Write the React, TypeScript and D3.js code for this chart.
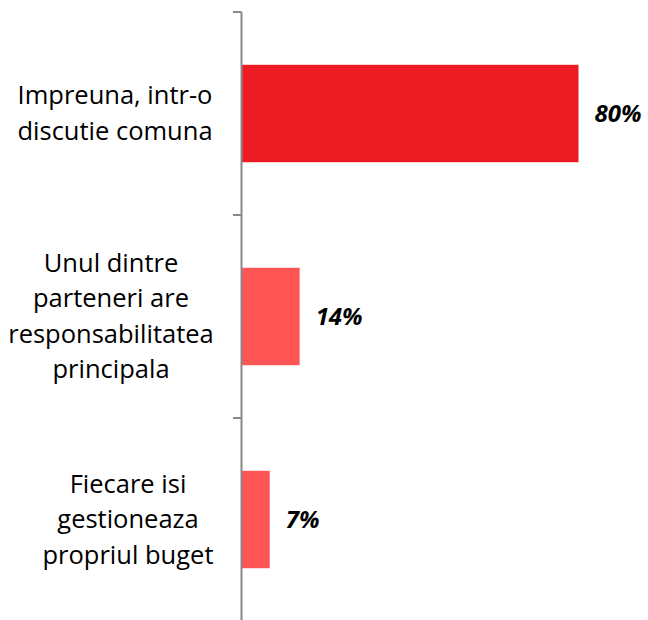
import React from "react";
import * as d3 from "d3";

const categories: string[][] = [
  ["Impreuna, intr-o", "discutie comuna"],
  ["Unul dintre", "parteneri are", "responsabilitatea", "principala"],
  ["Fiecare isi", "gestioneaza", "propriul buget"],
];
const values: number[] = [80, 13.8, 6.7];
const valueLabels: string[] = ["80%", "14%", "7%"];
const barColors: string[] = ["#ED1C24", "#FF5555", "#FF5555"];
const labelCenters: number[] = [115, 111, 128];

export default function App() {
  const W = 648;
  const H = 620;
  const axisX = 241.5;
  const y = d3
    .scaleBand<number>()
    .domain(d3.range(categories.length))
    .range([12, 621])
    .paddingInner(0.52)
    .paddingOuter(0.26);
  const x = d3.scaleLinear().domain([0, 80]).range([axisX, 578.5]);
  const ticks = d3.range(categories.length + 1).map((i) => 12 + i * ((621 - 12) / categories.length));
  const font = "'Open Sans', sans-serif";
  const lineH = 35.5;

  return (
    <svg
      width={W}
      height={H}
      style={{ position: "absolute", left: 0, top: 0, background: "#fff" }}
    >
      {values.map((v, i) => (
        <rect
          key={i}
          x={axisX}
          y={y(i)!}
          width={x(v) - axisX}
          height={y.bandwidth()}
          fill={barColors[i]}
        />
      ))}
      <line x1={axisX} x2={axisX} y1={12} y2={H} stroke="#888" strokeWidth={2} />
      {ticks.map((t, i) => (
        <line key={i} x1={233} x2={axisX} y1={t} y2={t} stroke="#888" strokeWidth={2} />
      ))}
      {values.map((v, i) => (
        <text
          key={i}
          x={x(v) + 16}
          y={y(i)! + y.bandwidth() / 2}
          dy="0.36em"
          fontFamily={font}
          fontWeight="bold"
          fontStyle="italic"
          fontSize={24}
          fill="#000"
        >
          {valueLabels[i]}
        </text>
      ))}
      {categories.map((lines, i) => {
        const cy = y(i)! + y.bandwidth() / 2;
        const top = cy - ((lines.length - 1) * lineH) / 2;
        return (
          <text
            key={i}
            textAnchor="middle"
            fontFamily={font}
            fontSize={25.5}
            fill="#000"
            style={{ fontVariantLigatures: "none" }}
          >
            {lines.map((l, j) => (
              <tspan key={j} x={labelCenters[i]} y={top + j * lineH} dy="0.34em">
                {l}
              </tspan>
            ))}
          </text>
        );
      })}
    </svg>
  );
}
